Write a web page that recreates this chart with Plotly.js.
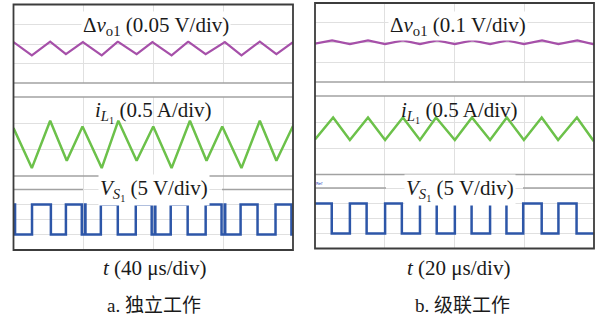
<!DOCTYPE html>
<html>
<head>
<meta charset="utf-8">
<script src="https://cdn.plot.ly/plotly-3.0.1.min.js"></script>
<style>html,body{margin:0;padding:0;background:#fff}</style>
</head>
<body>
<div id="chart" style="width:601px;height:322px"></div>
<script>
// (a) independent operation, 40 us/div
const tRippleA = [0, 10.5, 21, 30, 39.7, 50.5, 59.7, 70.5, 79.5, 90.5, 100, 110, 121, 130.5, 141, 150.5, 160];
const vRippleA = [0.005, -0.029, 0.006, -0.026, 0.005, -0.029, 0.006, -0.026, 0.005, -0.029, 0.006, -0.026, 0.005, -0.029, 0.006, -0.026, 0.005];

const tCurrentA = [0, 10.5, 21, 30.5, 39.5, 50.5, 60, 70.5, 80, 90.5, 101, 110.5, 119.5, 130.5, 141, 150.5, 160];
const iCurrentA = [0.16, -0.60, 0.30, -0.46, 0.19, -0.60, 0.30, -0.46, 0.19, -0.60, 0.30, -0.46, 0.19, -0.60, 0.30, -0.46, 0.20];

const tSwitchA = [0, 0.9, 10.6, 21.4, 30.0, 39.1, 40.9, 41.2, 50.0, 59.7, 70.0, 79.1, 80.9, 81.2, 90.0, 99.7, 110.0, 119.1, 120.9, 121.2, 130.0, 139.7, 150.0, 159.1, 160];
const vSwitchA = [10, 0, 10, 0, 10, 0, 10, 0, 10, 0, 10, 0, 10, 0, 10, 0, 10, 0, 10, 0, 10, 0, 10, 0, 0];

// (b) cascaded operation, 20 us/div
const tRippleB = [0, 4.9, 10.0, 15.2, 20.1, 25.2, 30.1, 35.0, 40.1, 45.1, 50.2, 55.1, 59.9, 65.1, 69.8, 75.2, 79.7, 80];
const vRippleB = [-0.006, 0.011, -0.008, 0.011, -0.008, 0.011, -0.008, 0.011, -0.008, 0.011, -0.008, 0.011, -0.008, 0.011, -0.008, 0.011, -0.008, -0.007];

const tCurrentB = [0, 5.2, 10.0, 15.2, 20.1, 25.2, 30.1, 34.7, 40.1, 45.0, 50.2, 55.0, 59.9, 65.0, 69.7, 75.1, 79.7, 80];
const iCurrentB = [-0.08, 0.34, -0.09, 0.34, -0.09, 0.34, -0.09, 0.34, -0.09, 0.34, -0.09, 0.34, -0.09, 0.34, -0.09, 0.34, -0.09, -0.07];

const tSwitchB = [0, 4.8, 10.0, 14.8, 20.1, 24.9, 30.1, 34.9, 40.1, 44.9, 50.2, 54.9, 59.7, 65.0, 69.8, 75.0, 80];
const vSwitchB = [10, 0, 10, 0, 10, 0, 10, 0, 10, 0, 10, 0, 10, 0, 10, 0, 0];

// labels
const rippleLabels = ['Δ<i>v</i><sub>o1</sub> (0.05 V/div)', 'Δ<i>v</i><sub>o1</sub> (0.1 V/div)'];
const currentLabel = '<i>i</i><sub><i>L</i><sub>1</sub></sub> (0.5 A/div)';
const switchLabel = '<i>V</i><sub><i>S</i><sub>1</sub></sub> (5 V/div)';
const timeLabels = ['<i>t</i> (40 μs/div)', '<i>t</i> (20 μs/div)'];
const captions = ['a. 独立工作', 'b. 级联工作'];

const W = 601, H = 322;
const px = x => x / W;
const py = y => 1 - y / H;

const MAG = '#a650a9', GRN = '#6cc14a', BLU = '#2d56a8';
const GRID = '#e0e0e0', SEP = '#a2a2a2', FRAME = '#3c3c3c';
const SERIF = 'Liberation Serif, Times New Roman, serif';

function trace(x, y, xa, ya, color, width, shape) {
  return {x, y, xaxis: xa, yaxis: ya, type: 'scatter', mode: 'lines',
          line: {color, width, shape: shape || 'linear'}, hoverinfo: 'skip'};
}

const data = [
  trace(tRippleA, vRippleA, 'x', 'y', MAG, 2.2),
  trace(tCurrentA, iCurrentA, 'x', 'y2', GRN, 2.5),
  trace(tSwitchA, vSwitchA, 'x', 'y3', BLU, 2.5, 'hv'),
  trace(tRippleB, vRippleB, 'x2', 'y4', MAG, 2.2),
  trace(tCurrentB, iCurrentB, 'x2', 'y5', GRN, 2.5),
  trace(tSwitchB, vSwitchB, 'x2', 'y6', BLU, 2.5, 'hv')
];

const axBase = {showgrid: true, gridcolor: GRID, gridwidth: 1, zeroline: false,
                showticklabels: false, ticks: '', showline: false, fixedrange: true};

const layout = {
  width: W, height: H,
  margin: {l: 0, r: 0, t: 0, b: 0},
  paper_bgcolor: '#fff', plot_bgcolor: 'rgba(0,0,0,0)',
  showlegend: false,
  xaxis:  Object.assign({}, axBase, {domain: [px(13.5), px(293)], range: [0, 160], tick0: 0, dtick: 40, anchor: 'y3'}),
  xaxis2: Object.assign({}, axBase, {domain: [px(315), px(594)], range: [0, 80], tick0: 0, dtick: 20, anchor: 'y6'}),
  yaxis:  Object.assign({}, axBase, {domain: [py(83), py(5)], range: [-0.1, 0.1], tick0: 0, dtick: 0.05, anchor: 'x'}),
  yaxis2: Object.assign({}, axBase, {domain: [py(176), py(97)], range: [-0.75, 0.75], tick0: 0.25, dtick: 0.5, anchor: 'x'}),
  yaxis3: Object.assign({}, axBase, {domain: [py(249.5), py(174.5)], range: [-5, 20], tick0: 0, dtick: 5, anchor: 'x'}),
  yaxis4: Object.assign({}, axBase, {domain: [py(82), py(3)], range: [-0.2, 0.2], tick0: 0, dtick: 0.1, anchor: 'x2'}),
  yaxis5: Object.assign({}, axBase, {domain: [py(174.5), py(96)], range: [-0.75, 0.75], tick0: 0.25, dtick: 0.5, anchor: 'x2'}),
  yaxis6: Object.assign({}, axBase, {domain: [py(248.5), py(173.5)], range: [-5, 20], tick0: 0, dtick: 5, anchor: 'x2'}),
  shapes: [],
  annotations: []
};

function hline(x0, x1, y, color, width) {
  layout.shapes.push({type: 'line', xref: 'paper', yref: 'paper', x0: px(x0), x1: px(x1),
                      y0: py(y), y1: py(y), line: {color, width}, layer: 'above'});
}
// section separators
hline(13.5, 293, 83, SEP, 1.5); hline(13.5, 293, 97, SEP, 1.5); hline(13.5, 293, 176, SEP, 1.5);
hline(13.5, 83, 189.5, SEP, 1.3); hline(222, 293, 189.5, SEP, 1.3);
hline(315, 594, 82, SEP, 1.5); hline(315, 594, 96, SEP, 1.5); hline(315, 594, 174.5, SEP, 1.5);
hline(315, 386, 188, SEP, 1.3); hline(523, 594, 188, SEP, 1.3);
// screen frames
layout.shapes.push({type: 'rect', xref: 'paper', yref: 'paper', x0: px(13.5), x1: px(293), y0: py(250), y1: py(4.5),
                    line: {color: FRAME, width: 1.8}, layer: 'above'});
layout.shapes.push({type: 'rect', xref: 'paper', yref: 'paper', x0: px(315), x1: px(594), y0: py(248.5), y1: py(3),
                    line: {color: FRAME, width: 1.8}, layer: 'above'});

function label(text, x, y, size, bg, family) {
  layout.annotations.push({text, x: px(x), y: py(y), xref: 'paper', yref: 'paper',
    xanchor: 'center', yanchor: 'middle', showarrow: false,
    font: {family: family || SERIF, size, color: '#1a1a1a'},
    bgcolor: bg || 'rgba(0,0,0,0)', borderpad: 1});
}
label(rippleLabels[0], 156, 26, 21, '#fff');
label(rippleLabels[1], 457.5, 26, 21, '#fff');
label(currentLabel, 153.5, 112, 21);
label(currentLabel, 459, 112, 21);
label(switchLabel, 154, 190, 21, '#fff');
label(switchLabel, 459.5, 190, 21, '#fff');
label(timeLabels[0], 154, 268, 21);
label(timeLabels[1], 458, 268, 21);
label(captions[0], 154, 305, 19, null, 'Liberation Serif, Noto Sans CJK SC, serif');
label(captions[1], 462, 305, 19, null, 'Liberation Serif, Noto Sans CJK SC, serif');
// scope reference marker
label('Ref', 319, 183, 4, null, 'DejaVu Sans');
layout.annotations[layout.annotations.length - 1].font.color = '#3050c0';

Plotly.newPlot('chart', data, layout, {staticPlot: true, displayModeBar: false});
</script>
</body>
</html>
